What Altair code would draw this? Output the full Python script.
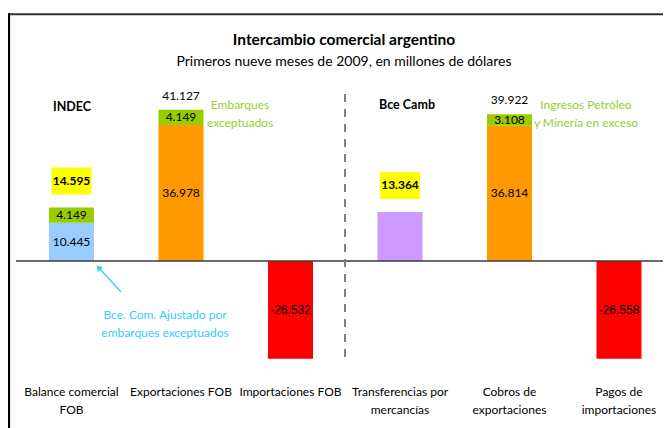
import altair as alt
import pandas as pd

# ---------------- data ----------------
cat_keys = ["bal", "exp", "imp", "trf", "cob", "pag"]
cat_labels = ["Balance comercial\nFOB", "Exportaciones FOB", "Importaciones FOB",
              "Transferencias por\nmercancías", "Cobros de\nexportaciones", "Pagos de\nimportaciones"]
base_values = [10445, 36978, -26532, 13364, 36814, -26558]
extra_values = [4149, 4149, 0, 0, 3108, 0]
base_colors = ["#99CCFF", "#FF9900", "#FF0000", "#CC99FF", "#FF9900", "#FF0000"]
base_label_shown = [True, True, True, False, True, True]
top_totals = [None, 41127, None, None, 39922, None]
adjusted_totals = [14595, None, None, 13364, None, None]

title_text = "Intercambio comercial argentino"
subtitle_text = "Primeros nueve meses de 2009, en millones de dólares"
group_left = "INDEC"
group_right = "Bce Camb"
note_left = "Embarques\nexceptuados"
note_right = "Ingresos Petróleo\ny Minería en exceso"
note_blue = "Bce. Com. Ajustado por\nembarques exceptuados"

# ---------------- layout / style ----------------
W, H = 655, 440
Y_MIN, Y_MAX = -50800, 68800
PX = H / (Y_MAX - Y_MIN)
EXTRA_COLOR = "#99CC00"
BOX_COLOR = "#FFFF00"
NOTE_GREEN = "#99CC33"
NOTE_BLUE = "#33CCFF"
FONT = "Lato"


def fmt(v):
    return f"{v:,}".replace(",", ".")


rows = []
for i, k in enumerate(cat_keys):
    b = base_values[i]
    e = extra_values[i]
    top = b + e
    rows.append(dict(
        cat=k, label=cat_labels[i], color=base_colors[i],
        lo=min(0, b), hi=max(0, b), mid=b / 2,
        blab=fmt(b) if base_label_shown[i] else "",
        neg=b < 0,
        e0=b, e1=b + e, emid=b + e / 2, elab=fmt(e) if e else "", extra=e,
        top=top,
        toplab=fmt(top_totals[i]) if top_totals[i] else "",
        adj=adjusted_totals[i] if adjusted_totals[i] else 0,
        adjlab=fmt(adjusted_totals[i]) if adjusted_totals[i] else "",
        box_lo=top + 13 / PX, box_hi=top + 40 / PX, box_mid=top + 26.5 / PX,
    ))
df = pd.DataFrame(rows)

xscale = alt.Scale(domain=cat_keys, paddingInner=0.589, paddingOuter=0.2854, align=0.656)
X = alt.X("cat:N", scale=xscale, axis=None)
yscale = alt.Scale(domain=[Y_MIN, Y_MAX], nice=False, zero=False)


def Y(field):
    return alt.Y(field, scale=yscale, axis=None)


base = alt.Chart(df)

bars = base.mark_bar(width=45).encode(
    x=X, y=Y("lo:Q"), y2="hi:Q", color=alt.Color("color:N", scale=None)
)
extras = base.transform_filter("datum.extra > 0").mark_bar(width=45, color=EXTRA_COLOR).encode(
    x=X, y=Y("e0:Q"), y2="e1:Q"
)
boxes = base.transform_filter("datum.adj > 0").mark_bar(width=40, color=BOX_COLOR).encode(
    x=X, y=Y("box_lo:Q"), y2="box_hi:Q"
)

zero_df = pd.DataFrame({"v": [0]})
zero_line = alt.Chart(zero_df).mark_rule(color="#3a3a3a", strokeWidth=1.5).encode(
    y=Y("v:Q"), x=alt.value(8), x2=alt.value(W)
)

pos_labels = base.transform_filter("datum.blab != '' && !datum.neg").mark_text(
    font=FONT, fontSize=12, color="black", baseline="middle"
).encode(x=X, y=Y("mid:Q"), text="blab:N")
neg_labels = base.transform_filter("datum.neg").mark_text(
    font="Liberation Sans", fontSize=12, color="black", baseline="middle"
).encode(x=X, y=Y("mid:Q"), text="blab:N")
extra_labels = base.transform_filter("datum.extra > 0").mark_text(
    font=FONT, fontSize=12, color="black", baseline="middle"
).encode(x=X, y=Y("emid:Q"), text="elab:N")
top_labels = base.transform_filter("datum.toplab != ''").mark_text(
    font=FONT, fontSize=12, color="black", baseline="middle", dy=-14
).encode(x=X, y=Y("top:Q"), text="toplab:N")
box_labels = base.transform_filter("datum.adj > 0").mark_text(
    font=FONT, fontSize=12, fontWeight="bold", color="black", baseline="middle"
).encode(x=X, y=Y("box_mid:Q"), text="adjlab:N")

cat_text = base.mark_text(
    font=FONT, fontSize=12, color="black", baseline="alphabetic", lineBreak="\n", lineHeight=18
).encode(x=X, y=alt.value(388), text="label:N")


def note(text, x, y, **kw):
    d = pd.DataFrame({"t": [text]})
    props = dict(font=FONT, fontSize=12, color="black", baseline="middle", align="center",
                 lineBreak="\n", lineHeight=18)
    props.update(kw)
    return alt.Chart(d).mark_text(**props).encode(x=alt.value(x), y=alt.value(y), text="t:N")


title = note(title_text, 336, 32, fontSize=15.5, fontWeight="bold")
subtitle = note(subtitle_text, 336, 54, fontSize=14)
g_left = note(group_left, 64, 99, fontSize=12.5, fontWeight="bold")
g_right = note(group_right, 399, 97, fontSize=12.5, fontWeight="bold")
n_left = note(note_left, 232, 97, color=NOTE_GREEN)
n_right = note(note_right, 578, 97, color=NOTE_GREEN)
n_blue = note(note_blue, 157, 307, color=NOTE_BLUE)

one = pd.DataFrame({"v": [0]})
arrow_line = alt.Chart(one).mark_rule(color=NOTE_BLUE, strokeWidth=1.3).encode(
    x=alt.value(113), y=alt.value(284), x2=alt.value(91), y2=alt.value(260)
)
arrow_head = alt.Chart(one).mark_point(
    shape="triangle-up", filled=True, color=NOTE_BLUE, size=45, angle=317, opacity=1
).encode(x=alt.value(90.5), y=alt.value(259.5))

divider = alt.Chart(one).mark_rule(color="#808080", strokeWidth=2, strokeDash=[8, 7]).encode(
    x=alt.value(337), y=alt.value(86), y2=alt.value(355)
)

border_top = alt.Chart(one).mark_rule(color="#303030", strokeWidth=2).encode(
    x=alt.value(0), x2=alt.value(W), y=alt.value(6.3)
)
border_left = alt.Chart(one).mark_rule(color="black", strokeWidth=2.2).encode(
    x=alt.value(1), y=alt.value(5.3), y2=alt.value(H)
)

chart = alt.layer(
    bars, extras, boxes, zero_line,
    pos_labels, neg_labels, extra_labels, top_labels, box_labels, cat_text,
    title, subtitle, g_left, g_right, n_left, n_right, n_blue,
    arrow_line, arrow_head, divider, border_top, border_left,
).properties(
    width=W, height=H, padding=0, autosize="none", background="white"
).configure_view(strokeWidth=0)

chart.save("out.html", embed_options={"renderer": "svg", "actions": False})
